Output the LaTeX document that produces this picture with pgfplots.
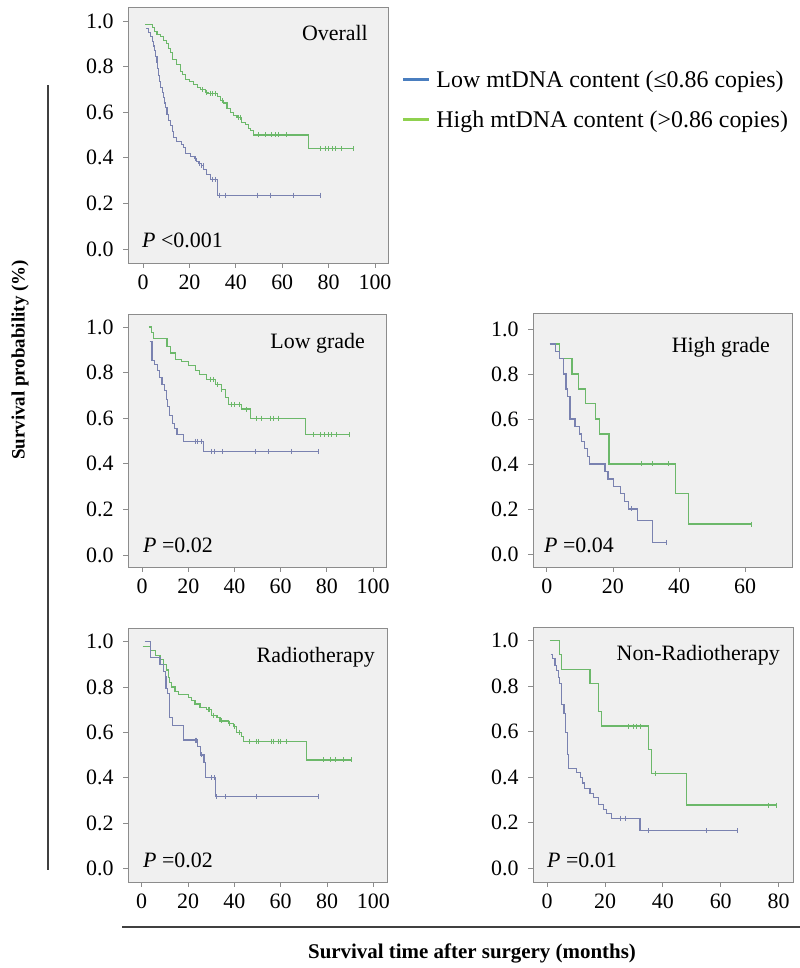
\documentclass[border=0pt]{standalone}
\usepackage{fontspec}
\setmainfont{Liberation Serif}
\usepackage{pgfplots}
\pgfplotsset{compat=1.18}

\definecolor{kmblue}{HTML}{7A82B0}
\definecolor{kmgreen}{HTML}{6CB86A}
\definecolor{legblue}{HTML}{4A7EBF}
\definecolor{leggreen}{HTML}{8FD14F}
\definecolor{panelbg}{HTML}{F0F0F0}
\definecolor{framegray}{HTML}{8C8C8C}

\tikzset{
  ttl/.style={anchor=north east, inner sep=0pt, font=\fontsize{22}{26}\selectfont},
  pval/.style={anchor=base west, inner sep=0pt, font=\fontsize{22}{26}\selectfont},
}

\pgfplotsset{
  km/.style={
    scale only axis,
    axis background/.style={fill=panelbg},
    axis line style={framegray, line width=0.8bp},
    ytick={0,0.2,0.4,0.6,0.8,1},
    y tick label style={/pgf/number format/.cd, fixed, fixed zerofill, precision=1, /tikz/.cd},
    y tick label style={xshift=-6bp},
    x tick label style={yshift=-3bp},
    tick align=outside, tick pos=left,
    major tick length=5bp,
    every tick/.style={framegray, line width=0.8bp},
    tick label style={font=\fontsize{22}{25}\selectfont},
    /pgf/number format/assume math mode=true,
    clip=false,
  },
  low/.style={const plot, color=kmblue, line width=1.1bp, forget plot},
  high/.style={const plot, color=kmgreen, line width=1.1bp, forget plot},
  lowc/.style={only marks, mark=|, mark size=2.5bp, color=kmblue, mark options={line width=0.8bp}, forget plot},
  highc/.style={only marks, mark=|, mark size=2.5bp, color=kmgreen, mark options={line width=0.8bp}, forget plot},
}

\begin{document}
\begin{tikzpicture}
\useasboundingbox (0bp,0bp) rectangle (800bp,968bp);

% ---------- Overall ----------
\begin{axis}[km, at={(128bp,705bp)}, anchor=south west,
  width=260bp, height=256bp,
  xmin=-6.5, xmax=105.6, ymin=-0.061, ymax=1.061,
  xtick={0,20,40,60,80,100},
  legend style={at={(rel axis cs:1.054,0.76)}, anchor=north west,
    draw=none, fill=none, inner sep=0pt, row sep=18bp,
    font=\fontsize{24}{28}\selectfont},
  legend cell align=left,
  legend image code/.code={\path[draw=none] (0bp,0bp) -- (31bp,0bp); \draw[#1, line width=2.5bp] (0bp,0bp) -- (26bp,0bp);},
]
\addplot[high] coordinates {
(1,0.984) (3.9,0.97) (5,0.955) (6,0.94) (7.5,0.93) (8.9,0.915) (10,0.90)
(11,0.88) (12,0.86) (12.5,0.83) (14.6,0.81) (16.1,0.78) (17,0.765)
(18.2,0.745) (20,0.735) (21.8,0.72) (23.5,0.71) (24.7,0.70) (26.8,0.685)
(28,0.68) (31.9,0.67) (33.3,0.65) (34.5,0.64) (36.2,0.615) (37.5,0.60)
(39,0.585) (40.5,0.575) (42.6,0.555) (44,0.545) (45.5,0.53) (46.5,0.52)
(47.6,0.50) (71.3,0.44) (90.7,0.44)};
\addplot[highc] coordinates {
(25.5,0.70) (27.5,0.685) (29,0.68) (30,0.68) (31,0.68) (34,0.65)
(41,0.575) (42,0.575) (49.8,0.5) (52.7,0.5) (55.5,0.5) (57,0.5) (58.4,0.5)
(62,0.5) (76.3,0.44) (78.5,0.44) (80,0.44) (81.5,0.44) (83,0.44) (85.5,0.44) (90.7,0.44)};
\addplot[low] coordinates {
(1.4,0.966) (2.5,0.95) (3.2,0.93) (3.9,0.91) (4.5,0.89) (4.9,0.87) (5.5,0.845)
(6,0.82) (6.4,0.79) (6.7,0.76) (7.2,0.735) (7.5,0.71) (8.2,0.685) (8.7,0.665)
(9.2,0.64) (9.6,0.62) (10.3,0.59) (11,0.565) (11.8,0.54) (12.5,0.515)
(13.2,0.49) (14.6,0.47) (16.5,0.46) (17.5,0.445) (18.2,0.42) (20.4,0.405)
(22,0.395) (23.2,0.385) (24,0.375) (25,0.365) (26.1,0.35) (27.5,0.325)
(29,0.305) (31.9,0.236) (76.3,0.236)};
\addplot[lowc] coordinates {
(22.5,0.395) (24.3,0.375) (25.3,0.365) (25.8,0.365) (30,0.305) (31,0.305)
(33,0.236) (35.5,0.236) (49.1,0.236) (54.8,0.236) (64.8,0.236) (76.3,0.236)};
\addlegendimage{legblue}
\addlegendentry{Low mtDNA content (≤0.86 copies)}
\addlegendimage{leggreen}
\addlegendentry{High mtDNA content (>0.86 copies)}
\node[ttl] at (rel axis cs:1,1) [xshift=-20bp, yshift=-18bp] {Overall};
\node[pval] at (rel axis cs:0,0) [xshift=14bp, yshift=15bp] {\textit{P} <0.001};
\end{axis}

% ---------- Low grade ----------
\begin{axis}[km, at={(128bp,401bp)}, anchor=south west,
  width=258bp, height=253bp,
  xmin=-6.1, xmax=105.6, ymin=-0.053, ymax=1.057,
  xtick={0,20,40,60,80,100},
]
\addplot[high] coordinates {
(2.9,1.0) (4,0.975) (5,0.95) (10.8,0.915) (12.2,0.886) (14.4,0.857)
(17,0.85) (20,0.83) (23,0.81) (25,0.79) (28,0.77) (31.7,0.747) (34.5,0.725)
(36,0.69) (37.4,0.66) (43.2,0.64) (46.8,0.60) (70.9,0.527) (89.9,0.527)};
\addplot[highc] coordinates {
(29.5,0.77) (30.8,0.77) (32.4,0.747) (34.5,0.725) (38.5,0.66) (40,0.66)
(42,0.66) (45.3,0.64) (49.6,0.60) (51.8,0.60) (55.4,0.60) (57,0.60) (59,0.60)
(74,0.527) (77,0.527) (79,0.527) (80.5,0.527) (82,0.527) (84,0.527) (89.9,0.527)};
\addplot[low] coordinates {
(3.3,0.937) (4.3,0.852) (5.5,0.835) (6.5,0.81) (7.6,0.78) (8.6,0.747)
(9.6,0.72) (10.5,0.68) (11,0.652) (12,0.61) (13,0.575) (14,0.556)
(15.1,0.53) (18,0.498) (26.6,0.454) (76.3,0.454)};
\addplot[lowc] coordinates {
(23,0.498) (24,0.498) (25.5,0.498) (30.2,0.454) (31.5,0.454) (34.8,0.454)
(48.9,0.454) (54.7,0.454) (64.7,0.454) (76.3,0.454)};
\node[ttl] at (rel axis cs:1,1) [xshift=-21bp, yshift=-19bp] {Low grade};
\node[pval] at (rel axis cs:0,0) [xshift=15bp, yshift=14bp] {\textit{P} =0.02};
\end{axis}

% ---------- High grade ----------
\begin{axis}[km, at={(533bp,401bp)}, anchor=south west,
  width=259bp, height=254bp,
  xmin=-4.2, xmax=74.2, ymin=-0.058, ymax=1.071,
  xtick={0,20,40,60},
]
\addplot[high] coordinates {
(1,0.933) (3.8,0.867) (7.6,0.80) (9.6,0.733) (11.6,0.667) (14.6,0.60)
(15.8,0.533) (18.8,0.40) (38.8,0.267) (42.8,0.133) (62,0.133)};
\addplot[highc] coordinates {(28.7,0.40) (31.8,0.40) (36.8,0.40) (62,0.133)};
\addplot[low] coordinates {
(0.8,0.933) (2.5,0.90) (3.8,0.867) (5,0.80) (5.8,0.733) (6.3,0.70) (7,0.60)
(8.5,0.567) (10,0.533) (10.6,0.50) (11.5,0.467) (12.2,0.433) (13,0.40)
(17.6,0.367) (18.5,0.333) (20.2,0.30) (22.3,0.267) (23.5,0.233) (24.6,0.20)
(27.5,0.15) (32,0.05) (36.1,0.05)};
\addplot[lowc] coordinates {(25.7,0.20) (36.1,0.05)};
\node[ttl] at (rel axis cs:1,1) [xshift=-22bp, yshift=-24bp] {High grade};
\node[pval] at (rel axis cs:0,0) [xshift=11bp, yshift=14bp] {\textit{P} =0.04};
\end{axis}

% ---------- Radiotherapy ----------
\begin{axis}[km, at={(128bp,86bp)}, anchor=south west,
  width=259bp, height=254bp,
  xmin=-5.9, xmax=105.9, ymin=-0.06, ymax=1.06,
  xtick={0,20,40,60,80,100},
]
\addplot[high] coordinates {
(0.4,0.98) (4,0.96) (6,0.94) (7.9,0.92) (9.4,0.90) (10.8,0.875) (11.5,0.84)
(12,0.82) (12.9,0.80) (14.4,0.78) (15.8,0.765) (20.1,0.755) (21.6,0.74)
(23,0.725) (25.2,0.71) (28,0.70) (30.2,0.675) (32.5,0.665) (33.8,0.65)
(37.4,0.64) (39.6,0.625) (41,0.60) (43.2,0.58) (43.9,0.56) (71.2,0.478) (90.6,0.478)};
\addplot[highc] coordinates {
(28.6,0.70) (29.4,0.70) (31,0.675) (34.5,0.65) (38,0.64) (40,0.625)
(42,0.60) (46.3,0.56) (49.6,0.56) (50.6,0.56) (56.1,0.56) (56.8,0.56)
(59,0.56) (59.7,0.56) (62.6,0.56) (78.4,0.478) (81.3,0.478) (83.5,0.478)
(87,0.478) (90.6,0.478)};
\addplot[low] coordinates {
(1.4,1.0) (3.9,0.93) (7.9,0.90) (9.4,0.87) (10.1,0.845) (10.5,0.795)
(11.1,0.77) (12,0.735) (12.2,0.665) (13.4,0.632) (17.9,0.566) (24,0.537)
(25.5,0.50) (26.9,0.466) (27.6,0.40) (31.9,0.316) (76.3,0.316)};
\addplot[lowc] coordinates {
(23,0.566) (23.6,0.566) (25.9,0.50) (30.2,0.40) (31.2,0.40) (32.4,0.316)
(36,0.316) (49.6,0.316) (76.3,0.316)};
\node[ttl] at (rel axis cs:1,1) [xshift=-12bp, yshift=-19bp] {Radiotherapy};
\node[pval] at (rel axis cs:0,0) [xshift=15bp, yshift=14bp] {\textit{P} =0.02};
\end{axis}

% ---------- Non-Radiotherapy ----------
\begin{axis}[km, at={(533bp,86bp)}, anchor=south west,
  width=260bp, height=255bp,
  xmin=-4.9, xmax=85, ymin=-0.06, ymax=1.06,
  xtick={0,20,40,60,80},
]
\addplot[high] coordinates {
(0.9,1.0) (4.2,0.94) (5,0.875) (14.8,0.81) (17.7,0.69) (18.8,0.625)
(35,0.52) (36.1,0.417) (48.3,0.278) (79.4,0.278)};
\addplot[highc] coordinates {
(28,0.625) (29.8,0.625) (31,0.625) (32.1,0.625) (37.3,0.417) (76.6,0.278) (79.4,0.278)};
\addplot[low] coordinates {
(1.2,0.94) (1.8,0.92) (2.7,0.89) (3.2,0.868) (3.8,0.84) (4.4,0.81) (5,0.72)
(5.8,0.68) (6.4,0.596) (7,0.50) (7.5,0.44) (10.2,0.42) (11.5,0.40)
(12.2,0.375) (13,0.35) (14.8,0.33) (15.9,0.31) (17.7,0.28) (19.4,0.26)
(20.6,0.24) (22.3,0.22) (32.1,0.166) (65.6,0.166)};
\addplot[lowc] coordinates {
(25.2,0.22) (26.9,0.22) (35,0.166) (55.2,0.166) (65.6,0.166)};
\node[ttl] at (rel axis cs:1,1) [xshift=-13bp, yshift=-18bp] {Non-Radiotherapy};
\node[pval] at (rel axis cs:0,0) [xshift=14bp, yshift=14bp] {\textit{P} =0.01};
\end{axis}

% shared labels
\draw[line width=1.5bp, black!75] (48bp,98bp) -- (48bp,883bp);
\draw[line width=1.5bp, black!75] (122bp,41bp) -- (800bp,41bp);
\node[rotate=90, font=\bfseries\fontsize{19}{22}\selectfont] at (20bp,608bp) {Survival probability (\%)};
\node[font=\bfseries\fontsize{21}{24}\selectfont] at (472bp,15bp) {Survival time after surgery (months)};
\end{tikzpicture}
\end{document}
